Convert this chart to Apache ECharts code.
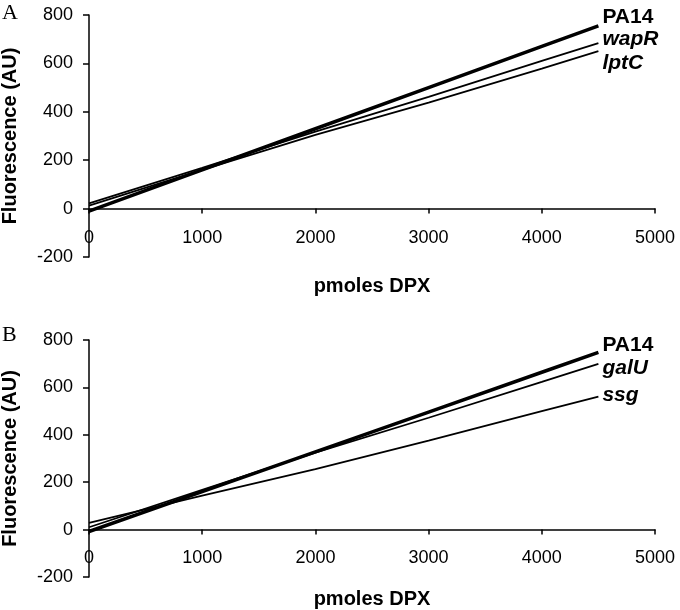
<!DOCTYPE html>
<html><head><meta charset="utf-8">
<script src="https://cdn.jsdelivr.net/npm/echarts@6/dist/echarts.min.js"></script>
<style>html,body{margin:0;padding:0;background:#fff}#c{width:680px;height:610px}</style>
</head><body><div id="c"></div>
<script>
// DPX amounts (pmoles)
const xPoints = [0, 1000, 2000, 3000, 4000, 4500];
// Panel A
const aPA14 = [-10, 160, 330, 500, 670, 755];
const aWapR = [22, 168, 318, 462, 610, 684];
const aLptC = [12, 160, 305, 438, 578, 651];
// Panel B
const bPA14 = [-8, 160, 328, 496, 664, 748];
const bGalU = [10, 168, 325, 472, 623, 699];
const bSsg = [28, 143, 255, 375, 500, 561];
const xTicks = [0, 1000, 2000, 3000, 4000, 5000];
const yTicks = [-200, 0, 200, 400, 600, 800];

const F = 'Arial, "Liberation Sans", sans-serif';
const pairs = ys => xPoints.map((x, i) => [x, ys[i]]);

function xAxis(g, nameGap) {
  return {
    type: 'value', gridIndex: g, min: xTicks[0], max: xTicks[xTicks.length - 1], interval: 1000,
    axisLine: {onZero: true, lineStyle: {color: '#000', width: 1.5}},
    axisTick: {show: true, inside: false, length: 5, lineStyle: {color: '#000', width: 1.5}},
    axisLabel: {color: '#000', fontSize: 18, fontFamily: F, margin: -28, formatter: v => String(v)},
    splitLine: {show: false},
    name: 'pmoles DPX', nameLocation: 'middle', nameGap: nameGap,
    nameTextStyle: {color: '#000', fontSize: 20, fontWeight: 'bold', fontFamily: F}
  };
}
function yAxis(g) {
  return {
    type: 'value', gridIndex: g, min: yTicks[0], max: yTicks[yTicks.length - 1], interval: 200,
    axisLine: {show: true, onZero: false, lineStyle: {color: '#000', width: 1.5}},
    axisTick: {show: true, length: 6, lineStyle: {color: '#000', width: 1.5}},
    axisLabel: {color: '#000', fontSize: 18, fontFamily: F, margin: 16, formatter: v => String(v)},
    splitLine: {show: false},
    name: 'Fluorescence (AU)', nameLocation: 'middle', nameGap: 69, nameRotate: 90,
    nameTextStyle: {color: '#000', fontSize: 20, fontWeight: 'bold', fontFamily: F}
  };
}
function line(name, g, ys, w, italic, dy) {
  return {
    name: name, type: 'line', xAxisIndex: g, yAxisIndex: g, data: pairs(ys),
    symbol: 'none', smooth: false, animation: false,
    lineStyle: {color: '#000', width: w},
    endLabel: {show: true, formatter: name, color: '#000', fontSize: 21, fontWeight: 'bold',
      fontStyle: italic ? 'italic' : 'normal', fontFamily: F, distance: 4, offset: [0, dy]}
  };
}

const chart = echarts.init(document.getElementById('c'), null, {renderer: 'canvas'});
chart.setOption({
  backgroundColor: '#fff',
  animation: false,
  grid: [
    {left: 89, right: 25, top: 15, height: 242, containLabel: false, outerBoundsMode: 'none'},
    {left: 89, right: 25, top: 340, height: 237, containLabel: false, outerBoundsMode: 'none'}
  ],
  xAxis: [xAxis(0, 19), xAxis(1, 12)],
  yAxis: [yAxis(0), yAxis(1)],
  graphic: [
    {type: 'text', left: 2, top: 2, style: {text: 'A', font: '22px "Liberation Serif", "Times New Roman", serif', fill: '#000'}},
    {type: 'text', left: 2, top: 324, style: {text: 'B', font: '22px "Liberation Serif", "Times New Roman", serif', fill: '#000'}}
  ],
  series: [
    line('lptC', 0, aLptC, 1.8, true, 12),
    line('wapR', 0, aWapR, 1.8, true, -4),
    line('PA14', 0, aPA14, 3.5, false, -9),
    line('ssg', 1, bSsg, 1.8, true, -1),
    line('galU', 1, bGalU, 1.8, true, 4),
    line('PA14', 1, bPA14, 3.5, false, -7)
  ]
});
</script></body></html>
